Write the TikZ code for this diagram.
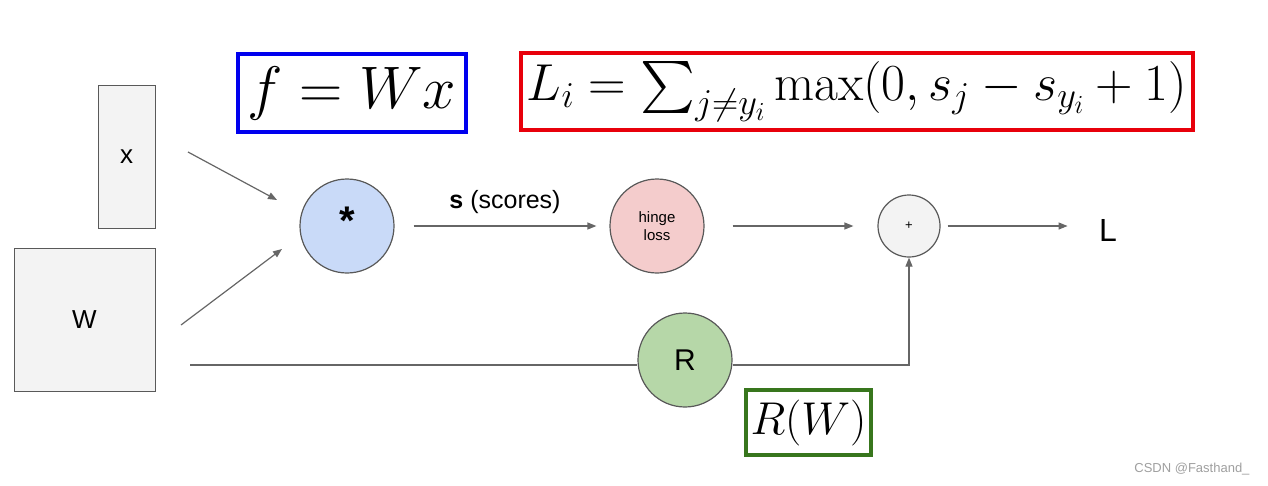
\RequirePackage{fix-cm}
\documentclass[tikz,border=0pt]{standalone}
\usepackage{amsmath, amssymb}
\usepackage{fontspec}
\newfontfamily\arialfont{Liberation Sans}
\usepackage{tikz}
\usetikzlibrary{arrows.meta}
\definecolor{edgegray}{HTML}{666666}
\definecolor{bordergray}{HTML}{595959}
\definecolor{boxgray}{HTML}{F3F3F3}
\definecolor{mulblue}{HTML}{C9DAF8}
\definecolor{hingered}{HTML}{F4CCCC}
\definecolor{regreen}{HTML}{B6D7A8}
\definecolor{fblue}{HTML}{0000EE}
\definecolor{lred}{HTML}{E8000B}
\definecolor{rgreen}{HTML}{38761D}
\tikzset{
    gate/.style={circle, draw=bordergray, line width=1.2pt, minimum size=94pt, inner sep=0pt, font=\arialfont},
    databox/.style={rectangle, draw=bordergray, fill=boxgray, line width=1pt, inner sep=0pt, font=\arialfont\fontsize{26}{26}\selectfont},
    flow/.style={draw=edgegray, line width=1.2pt, -{Triangle[length=9pt, width=7pt]}},
    wire/.style={draw=edgegray, line width=1.2pt},
    formula/.style={rectangle, line width=3.5pt, fill=white, inner sep=0pt}
}

\begin{document}
\begin{tikzpicture}[x=1pt, y=-1pt]
    \useasboundingbox (0,0) rectangle (1268,485);

    % inputs
    \node[databox, minimum width=57pt, minimum height=143pt] (xbox) at (126.5,156.5) {x};
    \node[databox, minimum width=141pt, minimum height=143pt] (wbox) at (84.5,319.5) {W};

    % gates
    \node[gate, fill=mulblue] (mul) at (347,226) {};
    \node[font=\arialfont\bfseries\fontsize{40}{40}\selectfont] (star) at (347,221) {*};
    \node[gate, fill=hingered, align=center, font=\arialfont\fontsize{15}{18}\selectfont] (hinge) at (657,226) {hinge\\loss};
    \node[gate, fill=boxgray, minimum size=62pt, font=\arialfont\fontsize{13}{13}\selectfont] (plus) at (909,226) {+};
    \node[gate, fill=regreen, font=\arialfont\fontsize{30}{30}\selectfont] (reg) at (685,360) {R};

    % labels
    \node[font=\arialfont\fontsize{25}{25}\selectfont] (scores) at (505,202) {\textbf{s} (scores)};
    \node[font=\arialfont\fontsize{32}{32}\selectfont] (loss) at (1108,230) {L};

    % formulas
    \node[formula, draw=fblue, minimum width=228pt, minimum height=78pt] (fbox) at (352,93)
        {\fontsize{60}{60}\selectfont$f = Wx$};
    \node[formula, draw=lred, minimum width=672pt, minimum height=77pt] (lbox) at (857,91.5)
        {\fontsize{52}{52}\selectfont$L_i = \sum_{j\neq y_i} \max(0, s_j - s_{y_i} + 1)$};
    \node[formula, draw=rgreen, minimum width=125pt, minimum height=65pt] (rbox) at (808.5,422.5)
        {\fontsize{46}{46}\selectfont$R(W)$};

    % edges
    \coordinate (xout) at (188,152);
    \coordinate (xin) at (277,200);
    \coordinate (wout) at (181,325);
    \coordinate (win) at (282,249);
    \coordinate (wreg) at (190,365);
    \draw[flow] (xout) -- (xin);
    \draw[flow] (wout) -- (win);
    \draw[flow, shorten <=19pt, shorten >=13pt] (mul) -- (hinge);
    \draw[flow, shorten <=28pt, shorten >=24pt] (hinge) -- (plus);
    \draw[flow, shorten <=7pt, shorten >=28pt] (plus.east) -- (plus.east -| loss.west);
    \draw[wire] (wreg) -- (wreg -| reg.west);
    \draw[flow] (wreg -| reg.east) -| (plus.south);

    \node[anchor=east, text=gray!75, font=\arialfont\fontsize{13}{13}\selectfont] (mark) at (1253,469) {CSDN @Fasthand\_};
\end{tikzpicture}
\end{document}
